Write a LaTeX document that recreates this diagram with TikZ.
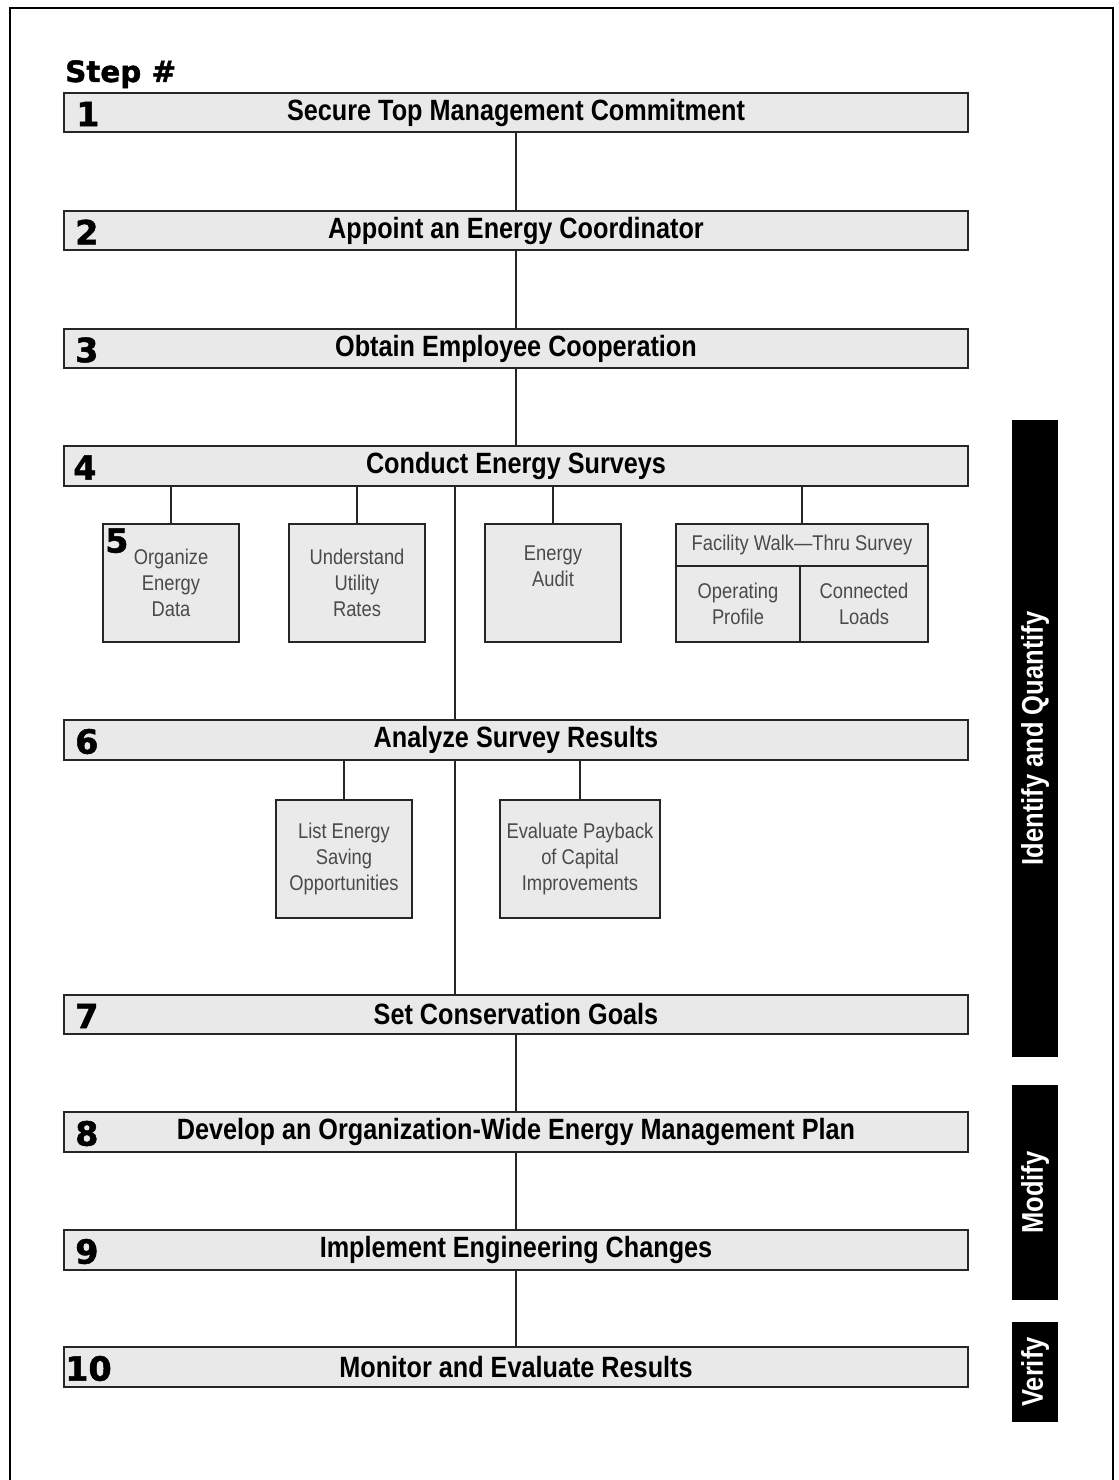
\documentclass[tikz,border=0pt]{standalone}
\usepackage{fontspec}
\setmainfont{Liberation Sans}
\newfontfamily\barfont[FakeStretch=0.86]{Liberation Sans}
\newfontfamily\sidefont[FakeStretch=0.85]{Liberation Sans}
\newfontfamily\subfont[FakeStretch=0.86]{Liberation Sans}
\newfontfamily\numfont[FakeBold=1.5]{DejaVu Sans}
\definecolor{barfill}{HTML}{E9E9E9}
\definecolor{boxfill}{HTML}{EAEAEA}
\definecolor{subtext}{HTML}{4A4A4A}
\begin{document}
\begin{tikzpicture}[x=0.75pt,y=-0.75pt]
\tikzset{
  stepbar/.style={draw=black!85, line width=1.5pt, fill=barfill, minimum width=678pt, minimum height=29.5pt, inner sep=0pt,
    font=\barfont\bfseries\fontsize{22pt}{24pt}\selectfont},
  stepnum/.style={anchor=west, inner sep=0pt, font=\numfont\bfseries\fontsize{25pt}{28pt}\selectfont},
  subbox/.style={draw=black!85, line width=1.5pt, fill=boxfill, minimum width=102pt, minimum height=88.5pt, inner sep=0pt,
    align=center, text=subtext, font=\subfont\fontsize{16pt}{19.5pt}\selectfont},
  cell/.style={draw=black!85, line width=1.5pt, fill=boxfill, inner sep=0pt, align=center, text=subtext,
    font=\subfont\fontsize{16pt}{19.5pt}\selectfont},
  sidebar/.style={fill=black, rotate=90, minimum height=34.5pt, inner sep=0pt, text=white,
    font=\sidefont\bfseries\fontsize{22.5pt}{24pt}\selectfont},
  conn/.style={draw=black!85, line width=1.5pt},
}
\useasboundingbox (0,0) rectangle (1119,1480);
\fill[white] (0,0) rectangle (1119,1480);
% frame
\draw[line width=2.2pt] (10,1480) -- (10,8) -- (1113,8) -- (1113,1480);

\node[anchor=base west, inner sep=0pt, font=\numfont\bfseries\fontsize{22pt}{24pt}\selectfont] (stephdr) at (65,82) {Step \#};

% main step bars
\node[stepbar] (s1) at (516,112.5) {Secure Top Management Commitment};
\node[stepbar] (s2) at (516,230.5) {Appoint an Energy Coordinator};
\node[stepbar] (s3) at (516,348.5) {Obtain Employee Cooperation};
\node[stepbar] (s4) at (516,466) {Conduct Energy Surveys};
\node[stepbar] (s6) at (516,740) {Analyze Survey Results};
\node[stepbar] (s7) at (516,1014.5) {Set Conservation Goals};
\node[stepbar] (s8) at (516,1132) {Develop an Organization-Wide Energy Management Plan};
\node[stepbar] (s9) at (516,1250) {Implement Engineering Changes};
\node[stepbar] (s10) at (516,1367) {Monitor and Evaluate Results};

\node[stepnum] (n1) at (76,114) {1};
\node[stepnum] (n2) at (75,232) {2};
\node[stepnum] (n3) at (75,350) {3};
\node[stepnum] (n4) at (73,467.5) {4};
\node[stepnum] (n6) at (75,741.5) {6};
\node[stepnum] (n7) at (75,1016) {7};
\node[stepnum] (n8) at (75,1133.5) {8};
\node[stepnum] (n9) at (75,1251.5) {9};
\node[stepnum] (n10) at (65,1368.5) {10};

% sub boxes under step 4
\node[subbox] (bA) at (171,583) {Organize\\Energy\\Data};
\node[subbox] (bB) at (357,583) {Understand\\Utility\\Rates};
\node[subbox] (bC) at (553,583) {Energy\\Audit\\\strut};
\node[cell, minimum width=189pt, minimum height=31.5pt] (bD) at (802,545) {Facility Walk—Thru Survey};
\node[cell, minimum width=93pt, minimum height=57pt] (bD1) at (738,604) {Operating\\Profile};
\node[cell, minimum width=96pt, minimum height=57pt] (bD2) at (864,604) {Connected\\Loads};
\node[anchor=north west, inner sep=0pt, font=\numfont\bfseries\fontsize{25pt}{28pt}\selectfont] (n5) at (105,528) {5};

% sub boxes under step 6
\node[subbox] (bE) at (344,859) {List Energy\\Saving\\Opportunities};
\node[subbox, minimum width=120pt] (bF) at (580,859) {Evaluate Payback\\of Capital\\Improvements};

% connectors
\coordinate (trunk) at (455,0);
\draw[conn] (s1.south) -- (s2.north);
\draw[conn] (s2.south) -- (s3.north);
\draw[conn] (s3.south) -- (s4.north);
\draw[conn] (s4.south -| trunk) -- (s6.north -| trunk);
\draw[conn] (s6.south -| trunk) -- (s7.north -| trunk);
\draw[conn] (s7.south) -- (s8.north);
\draw[conn] (s8.south) -- (s9.north);
\draw[conn] (s9.south) -- (s10.north);
\draw[conn] (bA.north) -- (bA.north |- s4.south);
\draw[conn] (bB.north) -- (bB.north |- s4.south);
\draw[conn] (bC.north) -- (bC.north |- s4.south);
\draw[conn] (bD.north) -- (bD.north |- s4.south);
\draw[conn] (bE.north) -- (bE.north |- s6.south);
\draw[conn] (bF.north) -- (bF.north |- s6.south);

% side phase bars
\node[sidebar, minimum width=477.75pt] (pIQ) at (1035,738.5) {Identify and Quantify};
\node[sidebar, minimum width=161.25pt] (pM) at (1035,1192.5) {Modify};
\node[sidebar, minimum width=75pt] (pV) at (1035,1372) {Verify};
\end{tikzpicture}
\end{document}
